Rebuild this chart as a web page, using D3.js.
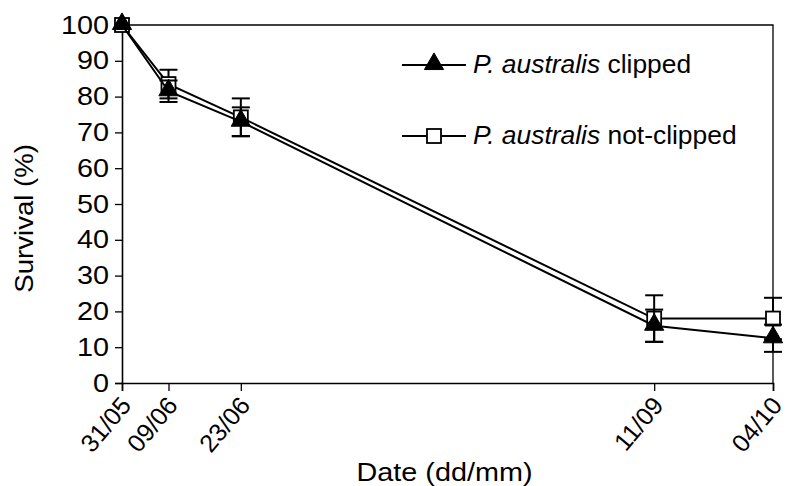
<!DOCTYPE html>
<html>
<head>
<meta charset="utf-8">
<script src="https://cdn.jsdelivr.net/npm/d3@7"></script>
<style>
  html, body { margin: 0; padding: 0; background: #fff; }
  svg { display: block; font-family: Arial, "Liberation Sans", sans-serif; }
</style>
</head>
<body>
<svg id="chart" width="787" height="486"></svg>
<script>
// Sampling dates (dd/mm) and survival (%) with standard errors
const dateLabels = ["31/05", "09/06", "23/06", "11/09", "04/10"];
const clippedSurvival = [100, 81.5, 73, 16, 12.5];
const clippedError = [0, 3, 4, 4.5, 3.8];
const notClippedSurvival = [100, 83.5, 74.2, 18, 18];
const notClippedError = [0, 4, 5.3, 6.5, 5.8];
const yTicks = [0, 10, 20, 30, 40, 50, 60, 70, 80, 90, 100];
const seriesNames = ["clipped", "not-clipped"];

const parseDate = d3.timeParse("%d/%m/%Y");
const dates = dateLabels.map(s => parseDate(s + "/2005"));

const svg = d3.select("#chart");
const margin = { left: 122, right: 14, top: 25, bottom: 103 };
const W = 787, H = 486;
const FS = 24;

const x = d3.scaleTime()
  .domain([dates[0], dates[dates.length - 1]])
  .range([margin.left, W - margin.right]);
const y = d3.scaleLinear()
  .domain([0, 100])
  .range([H - margin.bottom, margin.top]);

// Plot frame: top and right borders
svg.append("path")
  .attr("d", `M${x.range()[0]},${y(100)}H${x.range()[1]}V${y(0)}`)
  .attr("fill", "none").attr("stroke", "#000").attr("stroke-width", 1.3);

// Y axis
const yAxis = svg.append("g")
  .attr("transform", `translate(${margin.left},0)`)
  .call(d3.axisLeft(y).tickValues(yTicks).tickSize(7).tickPadding(4).tickFormat(d3.format("d")));
yAxis.select(".domain").attr("stroke-width", 1.6);
yAxis.selectAll(".tick line").attr("stroke-width", 1.3);
yAxis.selectAll("text")
  .attr("font-size", FS).attr("fill", "#000")
  .attr("x", 0)
  .attr("transform", "translate(-13,0) scale(1.2,1.05)");

// X axis with slanted date labels
const xAxis = svg.append("g")
  .attr("transform", `translate(0,${y(0)})`)
  .call(d3.axisBottom(x).tickValues(dates).tickSize(8).tickFormat((d, i) => dateLabels[i]));
xAxis.select(".domain").attr("stroke-width", 1.6);
xAxis.selectAll(".tick line").attr("stroke-width", 1.3);
xAxis.selectAll("text")
  .attr("font-size", 25).attr("fill", "#000")
  .attr("text-anchor", "end")
  .attr("x", 0).attr("y", 0).attr("dy", 0)
  .attr("transform", "translate(10,23) rotate(-50)");

// Axis titles
svg.append("text")
  .attr("transform", `translate(${(x.range()[0] + x.range()[1]) / 2 - 3},481) scale(1.2,1.05)`)
  .attr("text-anchor", "middle")
  .attr("font-size", FS)
  .text("Date (dd/mm)");
svg.append("text")
  .attr("transform", `translate(33,${y(46)}) rotate(-90) scale(1.15,1.05)`)
  .attr("text-anchor", "middle")
  .attr("font-size", FS)
  .text("Survival (%)");

const series = [
  { name: seriesNames[0], values: clippedSurvival, err: clippedError, marker: "triangle" },
  { name: seriesNames[1], values: notClippedSurvival, err: notClippedError, marker: "square" }
];

const line = d3.line().x(d => x(d.date)).y(d => y(d.v));
const triPath = d3.symbol().type(d3.symbolTriangle).size(160);

function drawMarker(g, kind, cx, cy) {
  if (kind === "triangle") {
    g.append("path").attr("d", triPath())
      .attr("transform", `translate(${cx},${cy - 1})`)
      .attr("fill", "#000").attr("stroke", "#000").attr("stroke-width", 1);
  } else {
    g.append("rect")
      .attr("x", cx - 7).attr("y", cy - 7)
      .attr("width", 14).attr("height", 14)
      .attr("fill", "#fff").attr("stroke", "#000").attr("stroke-width", 1.8);
  }
}

// Error bars, lines and markers (not-clipped drawn first, clipped above)
[series[1], series[0]].forEach(s => {
  const pts = s.values.map((v, i) => ({ date: dates[i], v, e: s.err[i] }));
  const g = svg.append("g");
  pts.forEach(p => {
    if (p.e <= 0) return;
    const cx = x(p.date);
    const eb = g.append("g").attr("stroke", "#000").attr("stroke-width", 2);
    eb.append("line").attr("x1", cx).attr("x2", cx).attr("y1", y(p.v + p.e)).attr("y2", y(p.v - p.e));
    eb.append("line").attr("x1", cx - 9).attr("x2", cx + 9).attr("y1", y(p.v + p.e)).attr("y2", y(p.v + p.e));
    eb.append("line").attr("x1", cx - 9).attr("x2", cx + 9).attr("y1", y(p.v - p.e)).attr("y2", y(p.v - p.e));
  });
  g.append("path").datum(pts).attr("d", line)
    .attr("fill", "none").attr("stroke", "#000").attr("stroke-width", 2);
  pts.forEach(p => drawMarker(g, s.marker, x(p.date), y(p.v)));
});

// Legend
const legendItems = [
  { marker: "triangle", y: 65, label: "clipped" },
  { marker: "square", y: 136, label: "not-clipped" }
];
legendItems.forEach(it => {
  const g = svg.append("g");
  g.append("line").attr("x1", 402).attr("x2", 466).attr("y1", it.y).attr("y2", it.y)
    .attr("stroke", "#000").attr("stroke-width", 2);
  drawMarker(g, it.marker, 434, it.y);
  const t = g.append("text")
    .attr("transform", `translate(473,${it.y + 8}) scale(1.1,1.05)`)
    .attr("font-size", FS);
  t.append("tspan").attr("font-style", "italic").text("P. australis");
  t.append("tspan").text(" " + it.label);
});
</script>
</body>
</html>
